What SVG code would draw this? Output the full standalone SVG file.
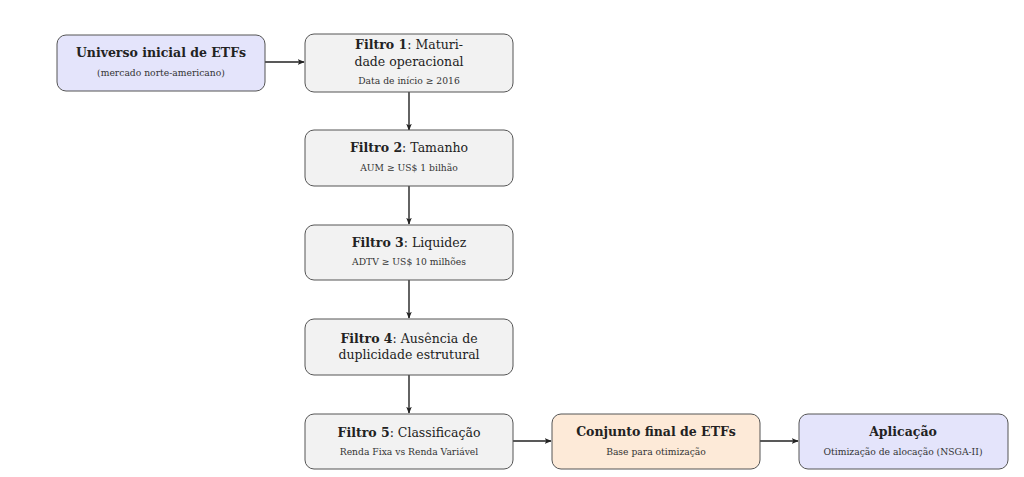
<svg xmlns="http://www.w3.org/2000/svg" width="1024" height="477" viewBox="0 0 1024 477">
<style>
.box{stroke:#555;stroke-width:1;}
.blue{fill:#e4e4fb;}
.gray{fill:#f2f2f2;}
.orange{fill:#fdead8;}
.t{font-family:"DejaVu Serif","Liberation Serif",serif;font-size:12.5px;fill:#222;text-anchor:middle;}
.b{font-weight:bold;}
.s{font-family:"DejaVu Serif","Liberation Serif",serif;font-size:9.2px;fill:#333;text-anchor:middle;}
.c{stroke:#222;stroke-width:1.4;fill:none;marker-end:url(#ah);}
</style>
<defs>
<marker id="ah" viewBox="0 0 10 10" refX="9" refY="5" markerWidth="7" markerHeight="7" orient="auto" markerUnits="userSpaceOnUse">
<path d="M0,1 L10,5 L0,9 L2.5,5 Z" fill="#222"/>
</marker>
</defs>
<g id="connectors">
<path class="c" d="M265,62 L304,62"/>
<path class="c" d="M409,92 L409,130"/>
<path class="c" d="M409,186 L409,224"/>
<path class="c" d="M409,280 L409,318"/>
<path class="c" d="M409,375 L409,413"/>
<path class="c" d="M513,441 L551,441"/>
<path class="c" d="M760,441 L798,441"/>
</g>
<g id="universo">
<rect class="box blue" x="57" y="35" width="208" height="56" rx="9"/>
<text class="t b" x="161" y="57">Universo inicial de ETFs</text>
<text class="s" x="161" y="76">(mercado norte-americano)</text>
</g>
<g id="filtro1">
<rect class="box gray" x="305" y="34" width="208" height="58" rx="9"/>
<text class="t" x="409" y="49"><tspan class="b">Filtro 1</tspan>: Maturi-</text>
<text class="t" x="409" y="66">dade operacional</text>
<text class="s" x="409" y="84">Data de início ≥ 2016</text>
</g>
<g id="filtro2">
<rect class="box gray" x="305" y="130" width="208" height="56" rx="9"/>
<text class="t" x="409" y="152"><tspan class="b">Filtro 2</tspan>: Tamanho</text>
<text class="s" x="409" y="171">AUM ≥ US$ 1 bilhão</text>
</g>
<g id="filtro3">
<rect class="box gray" x="305" y="225" width="208" height="55" rx="9"/>
<text class="t" x="409" y="247"><tspan class="b">Filtro 3</tspan>: Liquidez</text>
<text class="s" x="409" y="265">ADTV ≥ US$ 10 milhões</text>
</g>
<g id="filtro4">
<rect class="box gray" x="305" y="319" width="208" height="56" rx="9"/>
<text class="t" x="409" y="343"><tspan class="b">Filtro 4</tspan>: Ausência de</text>
<text class="t" x="409" y="359">duplicidade estrutural</text>
</g>
<g id="filtro5">
<rect class="box gray" x="305" y="414" width="208" height="55" rx="9"/>
<text class="t" x="409" y="437"><tspan class="b">Filtro 5</tspan>: Classificação</text>
<text class="s" x="409" y="455">Renda Fixa vs Renda Variável</text>
</g>
<g id="conjunto">
<rect class="box orange" x="552" y="414" width="208" height="55" rx="9"/>
<text class="t b" x="656" y="436">Conjunto final de ETFs</text>
<text class="s" x="656" y="455">Base para otimização</text>
</g>
<g id="aplicacao">
<rect class="box blue" x="799" y="414" width="209" height="55" rx="9"/>
<text class="t b" x="903" y="436">Aplicação</text>
<text class="s" x="903" y="455">Otimização de alocação (NSGA-II)</text>
</g>
</svg>
